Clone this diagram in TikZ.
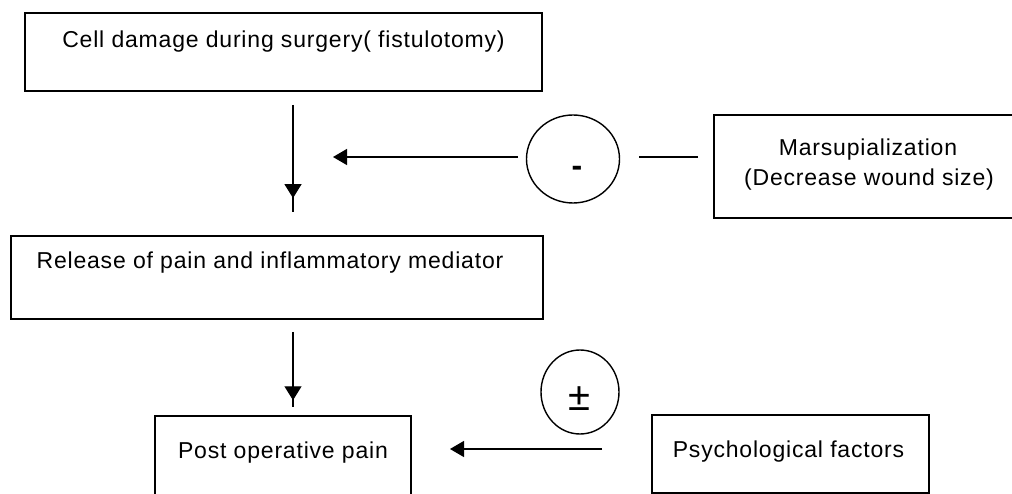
\documentclass[tikz,border=0pt]{standalone}
\usepackage{fontspec}
\setmainfont{Liberation Sans}[LetterSpace=3.5]
\usetikzlibrary{arrows.meta,shapes.geometric,decorations.markings}
\begin{document}
\begin{tikzpicture}[x=1pt,y=-1pt,
  boxline/.style={draw=black,line width=1.6pt},
  lab/.style={font=\fontsize{23}{26}\selectfont,anchor=base,inner sep=0pt},
  ring/.style={draw=black,line width=1.4pt,ellipse,inner sep=0pt},
  conn/.style={draw=black,line width=1.3pt},
  tipd/.style={conn,-{Triangle[length=14pt,width=16pt]}},
  midtip/.style={conn,postaction={decorate},decoration={markings,
     mark=at position #1 with {\arrow{Triangle[length=14pt,width=17pt]}}}}]
\useasboundingbox (0,0) rectangle (1012,494);
\fill[white] (0,0) rectangle (1012,494);
% boxes
\path[boxline] (25,13) rectangle (542,91);
\node[inner sep=0pt,minimum width=517pt,minimum height=78pt] (b1) at (283.5,52) {};
\path[boxline] (11,236) rectangle (543,319);
\node[inner sep=0pt,minimum width=532pt,minimum height=83pt] (b2) at (277,277.5) {};
\path[boxline] (155,416) rectangle (411,520);
\node[inner sep=0pt,minimum width=256pt,minimum height=104pt] (b3) at (283,468) {};
\path[boxline] (714,115) rectangle (1030,218);
\node[inner sep=0pt,minimum width=316pt,minimum height=103pt] (b4) at (872,166.5) {};
\path[boxline] (652,415) rectangle (929,493);
\node[inner sep=0pt,minimum width=277pt,minimum height=78pt] (b5) at (790.5,454) {};
% texts
\node[lab] (t1) at (283.5,47.5) {Cell damage during surgery( fistulotomy)};
\node[lab] (t2) at (270,269) {Release of pain and inflammatory mediator};
\node[lab] (t3) at (283,458) {Post operative pain};
\node[lab] (t4a) at (868,156) {Marsupialization};
\node[lab] (t4b) at (869,186) {(Decrease wound size)};
\node[lab] (t5) at (788.5,457) {Psychological factors};
% circles
\node[ring,minimum width=93pt,minimum height=88pt] (c1) at (573,159) {};
\node[font=\fontsize{32}{32}\selectfont\bfseries,inner sep=0pt] (m1) at (577,171) {-};
\node[ring,minimum width=78pt,minimum height=84pt] (c2) at (580,392) {};
\node[font=\fontsize{40}{40}\selectfont,inner sep=0pt] (m2) at (579,399) {±};
% connector points
\coordinate (a1s) at (293,105);
\coordinate (a1e) at (293,212);
\coordinate (a2s) at (293,332);
\coordinate (a2e) at (293,407);
\coordinate (hs) at (518,157);
\coordinate (he) at (333,157);
\coordinate (rs) at (698,157);
\coordinate (re) at (639,157);
\coordinate (ls) at (602,449);
\coordinate (le) at (450,449);
% connectors
\draw[midtip=0.87] (a1s) -- (a1e);
\draw[midtip=0.91] (a2s) -- (a2e);
\draw[tipd] (hs) -- (he);
\draw[conn] (rs) -- (re);
\draw[tipd] (ls) -- (le);
\end{tikzpicture}
\end{document}
